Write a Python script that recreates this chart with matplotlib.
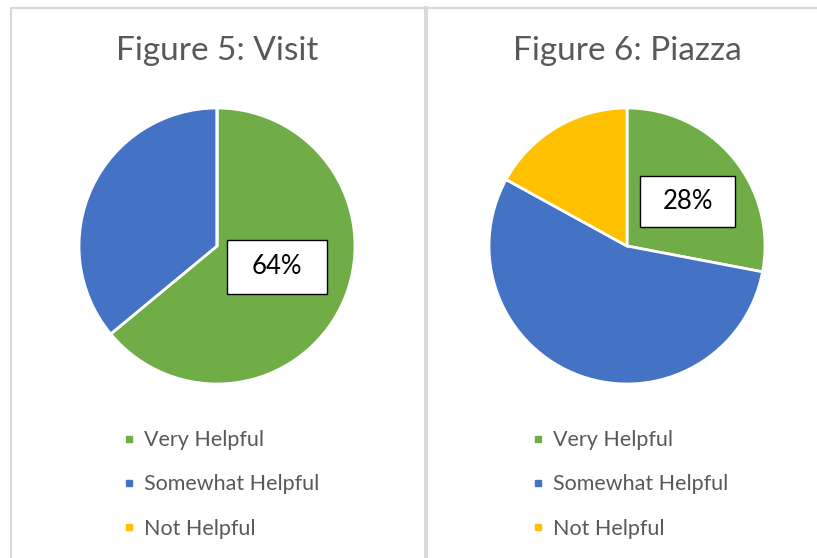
import matplotlib.pyplot as plt
from matplotlib.lines import Line2D
from matplotlib.patches import Rectangle

categories = ["Very Helpful", "Somewhat Helpful", "Not Helpful"]
colors = ["#70AD47", "#4472C4", "#FFC000"]

visit_values = [64, 36, 0]
piazza_values = [28, 55, 17]

titles = ["Figure 5: Visit", "Figure 6: Piazza"]
shown_labels = ["64%", "28%"]

W, H = 817, 558
plt.rcParams['font.family'] = ['Lato', 'DejaVu Sans']

fig = plt.figure(figsize=(W / 100, H / 100), dpi=100)
fig.patch.set_facecolor("white")

# frame lines like the document layout
grey = "#d9d9d9"
fig.add_artist(Line2D([11 / W, 1], [1 - 8 / H, 1 - 8 / H], color=grey, lw=1.5))
fig.add_artist(Line2D([11 / W, 11 / W], [0, 1 - 8 / H], color=grey, lw=1.5))
fig.add_artist(Line2D([426 / W, 426 / W], [0, 1 - 8 / H], color=grey, lw=2.8))

R = 138
panels = [
    dict(cx=217, cy=246, vals=visit_values, title=titles[0], lab=shown_labels[0],
         box=(0.435, -0.15, 100, 54), leg_x=124.2),
    dict(cx=627, cy=246, vals=piazza_values, title=titles[1], lab=shown_labels[1],
         box=(0.44, 0.32, 95, 51), leg_x=533.2),
]

for p in panels:
    ax = fig.add_axes([(p["cx"] - R) / W, (H - p["cy"] - R) / H, 2 * R / W, 2 * R / H])
    ax.pie(p["vals"], colors=colors, startangle=90, counterclock=False, radius=1,
           wedgeprops=dict(edgecolor="white", linewidth=2))
    ax.set_xlim(-1, 1)
    ax.set_ylim(-1, 1)
    ax.set_aspect("equal")
    ax.axis("off")

    bx, by, bw, bh = p["box"]
    bw, bh = bw / R, bh / R
    ax.add_patch(Rectangle((bx - bw / 2, by - bh / 2), bw, bh, facecolor="white",
                           edgecolor="black", lw=1, zorder=5, clip_on=False))
    ax.text(bx, by, p["lab"], ha="center", va="center", fontsize=18.5,
            color="black", zorder=6)

    fig.text(p["cx"] / W, 1 - 51 / H, p["title"], ha="center", va="center",
             fontsize=24, color="#595959")

    handles = [Line2D([0], [0], marker="s", linestyle="none", markersize=4.2,
                      markerfacecolor=c, markeredgecolor=c) for c in colors]
    fig.legend(handles, categories, loc="center left",
               bbox_to_anchor=(p["leg_x"] / W, (H - 484.5) / H),
               frameon=False, fontsize=15.5, labelcolor="#595959",
               handlelength=0.4, handletextpad=0.5, borderpad=0,
               borderaxespad=0, labelspacing=1.12)

fig.savefig("out.png", dpi=100)
